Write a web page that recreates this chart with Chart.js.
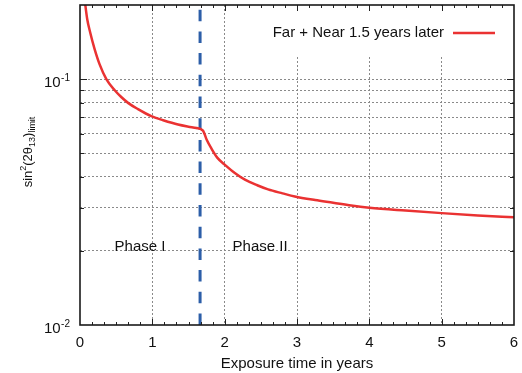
<!DOCTYPE html>
<html>
<head>
<meta charset="utf-8">
<script src="https://cdn.jsdelivr.net/npm/chart.js@4/dist/chart.umd.min.js"></script>
<style>
  html, body { margin: 0; padding: 0; background: #fff; }
</style>
</head>
<body>
<canvas id="chart_content" width="522" height="373"></canvas>
<script>
// values (years, sin^2(2theta13) limit)
const years = [0.06, 0.1, 0.14, 0.2, 0.27, 0.364, 0.48, 0.57, 0.664, 0.8,
	0.986, 1.15, 1.355, 1.5, 1.61, 1.7, 1.75, 1.82, 1.9, 2.0,
	2.14, 2.28, 2.45, 2.6, 2.8, 2.97, 3.25, 3.5, 3.75, 4.0,
	4.5, 5.0, 5.5, 6.0];
const limitValues = [0.215, 0.175, 0.155, 0.133, 0.115, 0.1, 0.09, 0.0845, 0.08, 0.0755,
	0.0706, 0.068, 0.0653, 0.064, 0.0632, 0.0617, 0.0568, 0.052, 0.0478, 0.0449,
	0.0415, 0.039, 0.037, 0.0356, 0.0343, 0.0333, 0.0322, 0.0314, 0.0306, 0.03,
	0.0292, 0.0285, 0.0279, 0.0274];
const seriesLabel = "Far + Near 1.5 years later";

const phaseBoundary = 1.66;
const phaseNames = ["Phase I", "Phase II"];
const phaseLabelX = [0.83, 2.49];
const phaseLabelY = 0.0199;

const xMin = 0, xMax = 6;
const yMin = 0.01, yMax = 0.2;
const yGrid = [0.01, 0.02, 0.03, 0.04, 0.05, 0.06, 0.07, 0.08, 0.09, 0.1, 0.2];
const yDecades = [0.01, 0.1];
const yDecadeExp = ["-2", "-1"];

const FONT = "'Liberation Sans', Arial, Helvetica, sans-serif";
const RED = "#ea3232";
const BLUE = "#2c5ea8";

var canvasElement = document.getElementById("chart_content");

// legend box, inward ticks, frame, log labels and y title
const decorations = {
	id: "decorations",
	beforeDatasetsDraw(chart) {
		const ctx = chart.ctx, a = chart.chartArea;
		ctx.save();
		ctx.fillStyle = "#fff";
		ctx.fillRect(236, a.top + 1, a.right - 237, 50);
		ctx.restore();
	},
	afterDatasetsDraw(chart) {
		const ctx = chart.ctx, a = chart.chartArea;
		const xs = chart.scales.x, ys = chart.scales.y;
		ctx.save();
		// legend
		ctx.font = "15px " + FONT;
		ctx.fillStyle = "#111";
		ctx.textAlign = "right";
		ctx.textBaseline = "middle";
		ctx.fillText(chart.data.datasets[0].label, 444, 33);
		ctx.strokeStyle = RED;
		ctx.lineWidth = 2.5;
		ctx.beginPath();
		ctx.moveTo(453, 33);
		ctx.lineTo(495, 33);
		ctx.stroke();

		// phase labels
		ctx.textAlign = "center";
		ctx.textBaseline = "alphabetic";
		ctx.fillStyle = "#111";
		for (let i = 0; i < phaseNames.length; i++) {
			ctx.fillText(phaseNames[i], xs.getPixelForValue(phaseLabelX[i]), ys.getPixelForValue(phaseLabelY));
		}

		// inward ticks
		ctx.strokeStyle = "#222";
		ctx.lineWidth = 1;
		ctx.beginPath();
		for (let k = 1; k < 36; k++) {
			const px = Math.round(xs.getPixelForValue(k / 6)) + 0.5;
			const len = (k % 6 === 0) ? 6 : 3;
			ctx.moveTo(px, a.bottom); ctx.lineTo(px, a.bottom - len);
			ctx.moveTo(px, a.top); ctx.lineTo(px, a.top + len);
		}
		yGrid.forEach(function(v) {
			if (v <= yMin || v >= yMax) return;
			const py = Math.round(ys.getPixelForValue(v)) + 0.5;
			const len = yDecades.indexOf(v) >= 0 ? 7 : 4;
			ctx.moveTo(a.left, py); ctx.lineTo(a.left + len, py);
			ctx.moveTo(a.right, py); ctx.lineTo(a.right - len, py);
		});
		ctx.stroke();

		// frame
		ctx.lineWidth = 1.6;
		ctx.strokeStyle = "#1a1a1a";
		ctx.strokeRect(a.left, a.top, a.right - a.left, a.bottom - a.top);
		ctx.restore();
	},
	afterDraw(chart) {
		const ctx = chart.ctx, a = chart.chartArea;
		const ys = chart.scales.y;
		ctx.save();
		ctx.fillStyle = "#111";
		ctx.textBaseline = "alphabetic";
		// 10^n labels
		for (let i = 0; i < yDecades.length; i++) {
			const py = ys.getPixelForValue(yDecades[i]);
			ctx.font = "10px " + FONT;
			const supW = ctx.measureText(yDecadeExp[i]).width;
			ctx.textAlign = "left";
			const right = 70;
			ctx.fillText(yDecadeExp[i], right - supW, py + 2);
			ctx.font = "15px " + FONT;
			ctx.textAlign = "right";
			ctx.fillText("10", right - supW - 0.5, py + 7.5);
		}
		// rotated y title: sin^2(2θ13)limit
		const parts = [
			{ t: "sin", s: 13, dy: 0 },
			{ t: "2", s: 9, dy: -6 },
			{ t: "(2θ", s: 13, dy: 0 },
			{ t: "13", s: 9, dy: 3 },
			{ t: ")", s: 13, dy: 0 },
			{ t: "limit", s: 9, dy: 3 }
		];
		let total = 0;
		parts.forEach(function(p) {
			ctx.font = p.s + "px " + FONT;
			p.w = ctx.measureText(p.t).width;
			total += p.w;
		});
		ctx.translate(32, (a.top + a.bottom) / 2 - 13);
		ctx.rotate(-Math.PI / 2);
		ctx.textAlign = "left";
		let cx = -total / 2;
		parts.forEach(function(p) {
			ctx.font = p.s + "px " + FONT;
			ctx.fillText(p.t, cx, p.dy);
			cx += p.w;
		});
		ctx.restore();
	}
};

function drawChart() {
	var curve = years.map(function(x, i) { return { x: x, y: limitValues[i] }; });
	var config = {
		type: "line",
		data: {
			datasets: [{
				label: seriesLabel,
				data: curve,
				borderColor: RED,
				borderWidth: 2.5,
				pointRadius: 0,
				cubicInterpolationMode: "monotone",
				fill: false
			}, {
				label: "boundary",
				data: [{ x: phaseBoundary, y: yMin }, { x: phaseBoundary, y: yMax }],
				borderColor: BLUE,
				borderWidth: 3,
				borderDash: [11.5, 10.2],
				pointRadius: 0,
				fill: false
			}]
		},
		options: {
			responsive: false,
			animation: false,
			layout: { padding: { top: 5, right: 8, left: 0, bottom: 0 } },
			plugins: {
				legend: { display: false },
				tooltip: { enabled: false }
			},
			scales: {
				x: {
					type: "linear",
					min: xMin,
					max: xMax,
					ticks: { stepSize: 1, color: "#111", font: { size: 15 }, padding: 9 },
					grid: {
						drawTicks: false,
						lineWidth: 1,
						color: function(c) {
							return (c.tick && c.tick.value > xMin && c.tick.value < xMax) ? "#8a8a8a" : "rgba(0,0,0,0)";
						}
					},
					border: { display: false, dash: [2, 2] },
					title: {
						display: true,
						text: "Exposure time in years",
						color: "#111",
						font: { size: 15 },
						padding: { top: 0, bottom: 0 }
					},
					afterFit: function(s) {
						s.height = 48;
						s.paddingLeft = 0;
						s.paddingRight = 0;
					}
				},
				y: {
					type: "logarithmic",
					min: yMin,
					max: yMax,
					afterBuildTicks: function(s) {
						s.ticks = yGrid.map(function(v) { return { value: v }; });
					},
					ticks: { display: false },
					grid: {
						drawTicks: false,
						lineWidth: 1,
						color: function(c) {
							return (c.tick && c.tick.value > yMin && c.tick.value < yMax) ? "#8a8a8a" : "rgba(0,0,0,0)";
						}
					},
					border: { display: false, dash: [2, 2] },
					afterFit: function(s) {
						s.width = 80;
						s.paddingTop = 0;
						s.paddingBottom = 0;
					}
				}
			}
		},
		plugins: [decorations]
	};
	var content_chart = new Chart(canvasElement, config);
}

Chart.defaults.font.family = FONT;
Chart.defaults.font.size = 14;
drawChart();
</script>
</body>
</html>
